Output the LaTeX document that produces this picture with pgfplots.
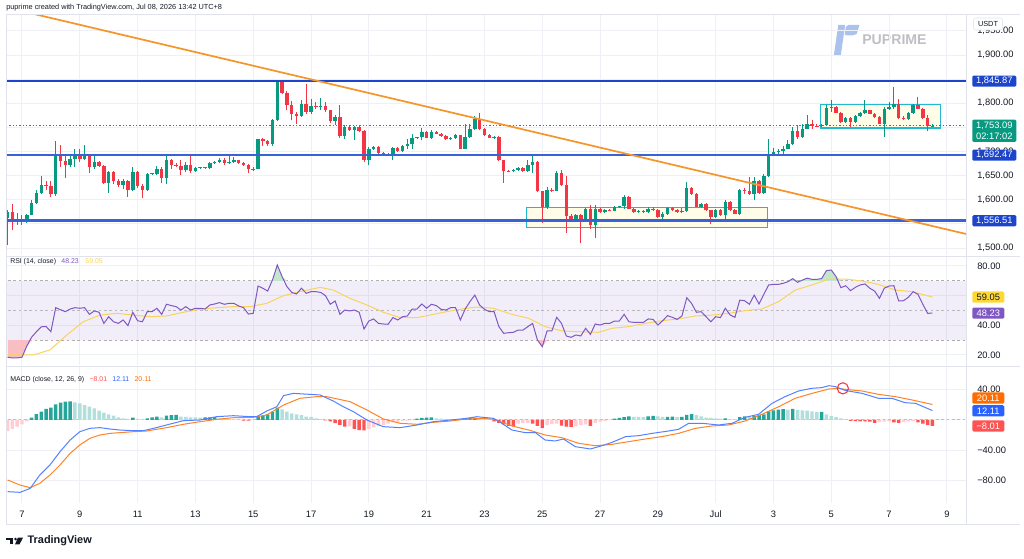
\documentclass[border=0pt]{standalone}
\usepackage{fontspec}
\setmainfont{Liberation Sans}
\usepackage{pgfplots}
\usepackage{pgfplotstable}
\pgfplotsset{compat=1.18}

\definecolor{tvgreen}{HTML}{089981}
\definecolor{tvred}{HTML}{F23645}
\definecolor{lvlblue}{HTML}{1C45CC}
\definecolor{lvlblue2}{HTML}{3A62D8}
\definecolor{trend}{HTML}{F5962D}
\definecolor{boxcyan}{HTML}{22B8CF}
\definecolor{boxfill}{HTML}{FFFCE8}
\definecolor{gridc}{HTML}{EEF0F5}
\definecolor{framec}{HTML}{E0E3EB}
\definecolor{rsipurple}{HTML}{7E57C2}
\definecolor{rsiyellow}{HTML}{F9D35A}
\definecolor{rsiybox}{HTML}{FDD835}
\definecolor{macdblue}{HTML}{2962FF}
\definecolor{macdorange}{HTML}{FF6D00}
\definecolor{hdg}{HTML}{26A69A}
\definecolor{hlg}{HTML}{B2DFDB}
\definecolor{hr}{HTML}{FF5252}
\definecolor{hp}{HTML}{FFCDD2}
\definecolor{txt}{HTML}{131722}
\definecolor{wm}{HTML}{BEBFC4}
\definecolor{wmicon}{HTML}{AAC2EC}
\definecolor{rsired}{HTML}{F8BEC4}
\definecolor{rsigreen}{HTML}{C3E7CD}

\pgfplotstableread{
i O H L C
0 1562.3 1578.0 1505.7 1574.7
1 1574.7 1592.0 1536.7 1557.5
2 1557.5 1573.0 1547.0 1558.8
3 1558.8 1568.0 1548.5 1554.0
4 1554.0 1571.3 1552.6 1569.2
5 1569.2 1598.9 1567.8 1594.1
6 1594.1 1619.6 1592.0 1614.1
7 1614.1 1649.3 1612.7 1630.0
8 1630.0 1638.3 1619.6 1628.6
9 1628.6 1638.0 1605.8 1611.3
10 1611.3 1721.9 1608.0 1692.2
11 1692.2 1714.3 1668.0 1679.7
12 1679.7 1692.0 1645.2 1672.8
13 1672.8 1695.6 1668.0 1683.9
14 1683.9 1706.0 1668.0 1692.2
15 1692.2 1706.0 1678.3 1683.9
16 1683.9 1714.3 1681.8 1692.2
17 1692.2 1695.6 1655.6 1668.0
18 1668.0 1695.6 1664.5 1678.3
19 1678.3 1680.0 1668.0 1670.1
20 1670.1 1672.8 1633.5 1635.5
21 1635.5 1659.0 1614.1 1657.6
22 1657.6 1659.0 1633.5 1638.3
23 1638.3 1643.8 1626.5 1630.0
24 1630.0 1643.8 1621.7 1639.0
25 1639.0 1640.4 1605.8 1619.6
26 1619.6 1668.0 1617.6 1657.6
27 1657.6 1659.0 1624.5 1628.6
28 1628.6 1633.5 1603.7 1621.0
29 1621.0 1655.0 1617.6 1653.5
30 1653.5 1656.0 1651.0 1654.2
31 1654.2 1670.1 1650.7 1664.5
32 1664.5 1668.0 1635.5 1645.2
33 1645.2 1692.2 1633.5 1681.8
34 1681.8 1685.0 1664.5 1672.8
35 1672.8 1676.0 1668.0 1670.1
36 1670.1 1681.8 1650.7 1661.1
37 1661.1 1678.3 1657.6 1672.8
38 1672.8 1692.2 1654.5 1659.0
39 1659.0 1668.0 1657.6 1665.9
40 1665.9 1668.5 1664.0 1666.8
41 1666.8 1668.5 1663.0 1665.5
42 1665.5 1678.3 1663.2 1676.3
43 1676.3 1680.0 1675.0 1678.3
44 1678.3 1686.6 1677.0 1681.8
45 1681.8 1686.6 1672.8 1677.0
46 1677.0 1695.6 1675.0 1678.3
47 1678.3 1688.7 1677.0 1681.8
48 1681.8 1683.0 1675.0 1676.3
49 1676.3 1678.0 1670.0 1671.4
50 1671.4 1674.0 1654.5 1663.2
51 1663.2 1668.0 1659.0 1664.5
52 1664.5 1726.7 1663.0 1725.3
53 1725.3 1728.1 1711.5 1721.2
54 1721.2 1723.0 1712.0 1716.3
55 1716.3 1768.2 1711.5 1764.7
56 1764.7 1847.5 1763.0 1845.0
57 1845.0 1846.5 1819.2 1821.3
58 1821.3 1824.7 1785.4 1795.8
59 1795.8 1804.1 1764.7 1778.5
60 1778.5 1782.0 1757.8 1773.7
61 1773.7 1806.2 1771.6 1799.2
62 1799.2 1840.7 1778.5 1782.0
63 1782.0 1809.6 1778.5 1794.4
64 1794.4 1802.7 1788.9 1792.3
65 1792.3 1811.0 1785.4 1793.5
66 1793.5 1802.7 1782.0 1785.4
67 1785.4 1786.5 1759.9 1762.6
68 1762.6 1775.0 1755.0 1772.0
69 1772.0 1795.8 1728.1 1732.2
70 1732.2 1754.3 1726.7 1750.9
71 1750.9 1753.0 1742.0 1744.0
72 1744.0 1752.0 1723.3 1750.0
73 1750.0 1752.0 1740.0 1741.9
74 1741.9 1744.0 1678.0 1681.8
75 1681.8 1709.4 1671.4 1706.0
76 1706.0 1712.0 1704.0 1709.4
77 1709.4 1712.0 1695.0 1697.7
78 1697.7 1700.0 1693.0 1694.2
79 1694.2 1697.0 1690.0 1692.2
80 1692.2 1709.4 1681.8 1707.4
81 1707.4 1710.0 1699.0 1700.5
82 1700.5 1713.0 1698.0 1711.5
83 1711.5 1725.3 1706.0 1716.3
84 1716.3 1737.1 1706.0 1728.1
85 1728.1 1731.0 1725.0 1729.5
86 1729.5 1748.8 1723.3 1740.5
87 1740.5 1742.0 1727.0 1728.1
88 1728.1 1744.0 1726.7 1740.5
89 1740.5 1742.0 1736.0 1737.1
90 1737.1 1739.0 1731.0 1732.2
91 1732.2 1734.0 1724.0 1725.3
92 1725.3 1730.0 1724.0 1728.0
93 1728.0 1737.1 1726.7 1733.6
94 1733.6 1735.0 1705.0 1706.0
95 1706.0 1757.8 1705.0 1730.2
96 1730.2 1757.8 1728.1 1747.4
97 1747.4 1773.7 1744.0 1766.8
98 1766.8 1780.6 1744.0 1746.1
99 1746.1 1748.0 1733.0 1735.0
100 1735.0 1737.0 1727.0 1728.1
101 1728.1 1732.0 1726.0 1730.0
102 1730.0 1732.0 1680.0 1681.8
103 1681.8 1683.0 1635.5 1659.7
104 1659.7 1662.0 1657.0 1659.0
105 1659.0 1664.0 1657.0 1662.5
106 1662.5 1667.0 1660.0 1665.9
107 1665.9 1668.0 1658.0 1659.7
108 1659.7 1681.8 1657.6 1672.8
109 1672.8 1690.8 1656.2 1678.3
110 1678.3 1680.0 1616.0 1617.6
111 1617.6 1618.5 1552.0 1585.1
112 1585.1 1626.5 1581.6 1621.0
113 1621.0 1624.0 1616.0 1619.0
114 1619.0 1660.0 1617.6 1656.0
115 1656.0 1661.0 1628.0 1630.6
116 1630.6 1649.3 1531.0 1566.3
117 1566.3 1571.0 1555.0 1557.5
118 1557.5 1571.0 1555.0 1567.8
119 1567.8 1571.0 1510.6 1557.5
120 1557.5 1582.0 1555.0 1580.3
121 1580.3 1588.5 1540.2 1547.1
122 1547.1 1588.5 1521.5 1580.3
123 1580.3 1582.0 1573.0 1574.7
124 1574.7 1580.0 1573.0 1578.2
125 1578.2 1581.0 1576.0 1577.5
126 1577.5 1587.0 1576.0 1585.1
127 1585.1 1588.0 1582.0 1586.5
128 1586.5 1610.7 1581.6 1605.8
129 1605.8 1608.0 1580.0 1581.6
130 1581.6 1583.0 1572.0 1574.7
131 1574.7 1578.0 1573.0 1576.1
132 1576.1 1578.0 1572.0 1574.7
133 1574.7 1584.0 1573.0 1581.6
134 1581.6 1584.0 1576.0 1578.2
135 1578.2 1581.0 1562.0 1564.4
136 1564.4 1575.0 1560.0 1571.3
137 1571.3 1586.0 1568.0 1583.7
138 1583.7 1586.0 1576.0 1578.2
139 1578.2 1580.0 1573.0 1574.7
140 1574.7 1582.0 1572.0 1576.0
141 1576.0 1636.9 1574.0 1624.5
142 1624.5 1626.5 1609.3 1612.7
143 1612.7 1614.0 1584.0 1585.1
144 1585.1 1594.0 1583.0 1592.0
145 1592.0 1594.0 1577.0 1578.2
146 1578.2 1579.0 1550.6 1564.4
147 1564.4 1580.0 1562.0 1578.2
148 1578.2 1580.0 1567.0 1569.2
149 1569.2 1598.9 1554.0 1595.5
150 1595.5 1597.0 1576.0 1578.2
151 1578.2 1580.0 1570.0 1571.3
152 1571.3 1623.1 1567.8 1619.6
153 1619.6 1624.5 1612.7 1617.6
154 1617.6 1647.3 1609.3 1612.7
155 1612.7 1647.3 1598.9 1638.3
156 1638.3 1641.0 1612.0 1614.1
157 1614.1 1654.2 1612.7 1649.3
158 1649.3 1725.3 1647.3 1695.6
159 1695.6 1707.4 1692.2 1699.1
160 1699.1 1705.0 1692.2 1700.5
161 1700.5 1711.5 1695.6 1706.0
162 1706.0 1723.3 1704.6 1716.3
163 1716.3 1750.9 1714.3 1741.9
164 1741.9 1754.3 1726.7 1730.2
165 1730.2 1757.8 1728.1 1746.1
166 1746.1 1775.1 1746.1 1757.8
167 1757.8 1764.7 1747.4 1753.0
168 1753.0 1757.0 1750.0 1752.3
169 1752.3 1756.0 1750.0 1754.3
170 1754.3 1795.8 1754.0 1790.3
171 1790.3 1806.2 1782.0 1792.3
172 1792.3 1794.0 1780.0 1780.6
173 1780.6 1782.0 1759.0 1761.2
174 1761.2 1771.0 1759.0 1769.5
175 1769.5 1771.6 1750.9 1761.2
176 1761.2 1775.0 1759.0 1773.7
177 1773.7 1782.0 1771.0 1780.6
178 1780.6 1806.2 1778.5 1785.4
179 1785.4 1787.0 1777.0 1778.5
180 1778.5 1780.0 1770.0 1771.6
181 1771.6 1773.0 1756.0 1757.8
182 1757.8 1792.3 1730.2 1788.9
183 1788.9 1802.7 1787.0 1792.3
184 1792.3 1833.8 1788.9 1799.2
185 1799.2 1809.6 1768.2 1769.5
186 1769.5 1773.0 1766.0 1768.2
187 1768.2 1781.0 1766.0 1780.6
188 1780.6 1799.2 1778.5 1795.8
189 1795.8 1813.0 1788.0 1788.9
190 1788.9 1790.0 1768.0 1769.5
191 1769.5 1775.1 1741.9 1752.3
192 1752.3 1757.8 1750.9 1753.09
}\candles

\pgfplotstableread{
i h t
0 -15 4
1 -12 4
2 -9 4
3 -6 4
4 -2 4
5 3 1
6 7.3 1
7 10.7 1
8 14.2 1
9 15.9 1
10 20.3 1
11 22.5 1
12 23.8 1
13 24.2 1
14 22.9 2
15 21.6 2
16 19.4 2
17 17.2 2
18 15 2
19 12 2
20 9.4 2
21 7.2 2
22 5.4 2
23 3.2 2
24 1.9 2
25 1.3 2
26 3 1
27 1.3 2
28 0.9 2
29 1.9 1
30 3.2 1
31 4.1 1
32 3.2 2
33 5.4 1
34 6.3 1
35 6.5 1
36 4.1 2
37 4 2
38 3.2 2
39 3.1 2
40 3 2
41 3.2 1
42 3.3 1
43 3.6 1
44 1.9 2
45 1.8 2
46 1.3 2
47 0.9 2
48 0.6 2
49 -1 3
50 -1.2 3
51 -0.5 4
52 4.1 1
53 5.4 1
54 7.2 1
55 10.7 1
56 15.9 1
57 13.7 2
58 10.7 2
59 8.5 2
60 7.2 2
61 6.3 2
62 4.1 2
63 4 2
64 1.9 2
65 0.9 2
66 -0.9 3
67 -2.2 3
68 -4.4 3
69 -6.6 3
70 -9 3
71 -8.5 4
72 -12 3
73 -13.4 3
74 -14 3
75 -12 4
76 -10 4
77 -8 4
78 -6.5 4
79 -5 4
80 -3.5 4
81 -2.5 4
82 -1.5 4
83 -1 4
84 -0.5 4
85 1.5 1
86 2.5 1
87 3 1
88 3.2 1
89 2 2
90 1.5 2
91 1.2 2
92 1 2
93 0.8 2
94 0.5 2
95 1.5 1
96 2.5 1
97 3 1
98 2 2
99 1.5 2
100 1 2
101 -2 3
102 -4 3
103 -6 3
104 -8 3
105 -8.5 3
106 -5 4
107 -4.5 4
108 -4 4
109 -5 3
110 -8 3
111 -11 3
112 -7 4
113 -5.5 4
114 -5 4
115 -7.5 3
116 -9 3
117 -9.2 3
118 -8.5 4
119 -7 4
120 -6 4
121 -8 3
122 -4 4
123 -2.5 4
124 -1.5 4
125 -0.5 4
126 1.5 1
127 2.5 1
128 3.5 1
129 4.5 1
130 4 2
131 3.8 2
132 3.5 2
133 4.5 1
134 5 1
135 4.5 2
136 3.8 2
137 4 1
138 4.2 1
139 3.5 2
140 4 1
141 6.5 1
142 7.5 1
143 6 2
144 4.5 2
145 3 2
146 2.5 2
147 2 2
148 1.5 2
149 2 1
150 1 2
151 0.8 2
152 3.5 1
153 4.5 1
154 4.2 2
155 5 1
156 6 1
157 7 1
158 11 1
159 12.5 1
160 13.5 1
161 14 1
162 13.5 2
163 14.2 1
164 13 2
165 12.5 2
166 12 2
167 11 2
168 10 2
169 10.5 1
170 7 2
171 5 2
172 3.5 2
173 2 2
174 0.8 2
175 -1.5 3
176 -1.8 3
177 -2 3
178 -2.2 3
179 -2.5 3
180 -4 3
181 -3 4
182 -2.5 4
183 -2 4
184 -3.5 3
185 -4 3
186 -3 4
187 -2.5 4
188 -2 4
189 -3.5 3
190 -5 3
191 -7 3
192 -8.01 3
}\hist

\pgfplotstableread{
i r
0 18.5
1 18
2 18
3 18.5
4 26
5 32
6 35.7
7 39
8 39.2
9 35.7
10 51.9
11 50.5
12 49.2
13 51
14 51.9
15 51.5
16 51.9
17 47.4
18 49.7
19 48.8
20 41.3
21 45.8
22 42.4
23 41.3
24 43.6
25 39.8
26 48.8
27 43.1
28 42.4
29 49.2
30 49.2
31 51.5
32 47.4
33 54.2
34 53.3
35 52.6
36 50.3
37 52.6
38 50.3
39 51.5
40 51.5
41 51
42 53.7
43 54.4
44 55.3
45 54.2
46 54.8
47 54.8
48 53
49 51.9
50 47.6
51 48.1
52 66.5
53 65
54 63.1
55 70.6
56 80.7
57 72.8
58 66.1
59 62.2
60 61.1
61 65
62 61.6
63 62.7
64 62.7
65 62.2
66 60
67 54.2
68 56.4
69 47.4
70 50.3
71 49.7
72 50.3
73 48.8
74 37.5
75 42.9
76 44.3
77 41.3
78 40.9
79 40.7
80 45.2
81 43.6
82 45.8
83 46.3
84 51
85 51
86 54.4
87 51.5
88 54.2
89 53.3
90 50.8
91 50.3
92 51.9
93 51.9
94 43.6
95 51
96 56
97 60.4
98 53.7
99 50.8
100 49.2
101 49.2
102 39.1
103 34.6
104 35
105 35.3
106 36.8
107 36.8
108 39.1
109 41.3
110 30.1
111 25.6
112 36.2
113 36.2
114 45.4
115 41.3
116 32.8
117 31.9
118 33.5
119 32.8
120 38
121 33.9
122 40.9
123 40.2
124 41.3
125 41.3
126 42.9
127 42.9
128 47.4
129 42.4
130 42
131 42
132 42
133 44.3
134 44
135 40.2
136 43.1
137 46.5
138 45.4
139 44
140 46.3
141 58.6
142 54.8
143 48.8
144 49.2
145 45.8
146 42.4
147 45.8
148 45.2
149 51.5
150 47
151 45.4
152 57
153 56.6
154 54.2
155 60.4
156 54.4
157 60.9
158 67.2
159 67.6
160 67.6
161 68.3
162 69.4
163 71.5
164 69
165 70.5
166 71.8
167 71
168 71
169 71.5
170 76.9
171 77.3
172 72.8
173 65.4
174 66.7
175 63.4
176 65.6
177 67.2
178 67.9
179 65
180 63.1
181 58.2
182 65
183 66.5
184 66.7
185 56.4
186 56.6
187 58.9
188 62.7
189 60.9
190 54.2
191 48.1
192 48.23
}\rsi

\pgfplotstableread{
i m
0 20
5.4 20
8.8 23.4
12.3 33.5
15.7 42.4
19.2 46.9
22.7 48.1
26.1 46.9
29.6 45.8
33 46.3
36.5 48.8
39.9 50.8
43.4 51.9
46.9 52.6
50.3 52.6
53.8 54.8
57.3 60
60.7 62.7
64.9 65.6
67.6 63.8
71.1 58.2
74.6 53.7
78 48.8
81.5 45.2
85 45.2
88.4 47.4
91.9 49.7
95.3 51.5
97.4 52.3
100.9 51.5
104.7 47.4
108.2 44.7
111.6 39.1
115.1 36.2
118.6 35.7
122.7 35.3
125.5 38
128.9 39.1
132.4 41.3
135.8 43.1
139.3 44.3
142.8 46.3
146.2 46.9
149.7 48.1
153.1 49.9
156.6 51
160.1 56
163.5 63.8
167 67.2
170.5 71.2
173.9 71.2
177.4 69.9
180.8 67.6
184.3 63.8
187.8 62.7
192 59.05
}\rsima

\pgfplotstableread{
i v
0 -94.3
2.6 -95.2
4.7 -90
6.7 -72.5
8.8 -59.3
10.9 -41.8
13 -26.5
15 -15.6
17.1 -11.2
19.2 -10.3
21.3 -12.1
23.3 -13.4
26.1 -14.3
28.2 -14.3
30.3 -11.2
33 -6.8
36.5 -1.1
39.9 -0.3
43.4 4.1
46.9 5.4
50.3 4.1
51.7 4.1
53.8 11.5
55.9 17.2
57.3 31.7
59.3 34.7
62.8 33.4
64.9 32.6
67.6 24.7
69.7 17.2
71.8 10.7
74.6 -0.3
78 -9
81.5 -10.3
85 -6.8
88.4 -2.5
91.9 -0.3
95.3 1.9
97.4 4.1
100.9 1.9
102.3 -3.3
104.7 -13.4
107.5 -16.9
109.6 -16.9
111.6 -26.5
113.7 -27.8
115.4 -25.2
117.9 -35.3
121 -38.3
123.4 -34
125.5 -29.6
128.3 -22.1
131 -20.8
133.8 -17.8
137.2 -14.7
139.3 -12.5
141.4 -4.6
144.2 -4.6
147.6 -6.8
150.4 -4.6
153.1 3.2
155.9 7.2
158.7 21.6
161.4 30.4
164.2 37.8
166.9 41.3
169 42.2
170.5 44.8
171.9 43.5
173.9 38.5
177.4 34.7
180.8 28.2
183.6 28.2
186.3 22.5
188.5 21.6
192 12.11
}\macd

\pgfplotstableread{
i s
0 -79
2.6 -85.6
4.7 -89.1
6.7 -83.4
8.8 -72.5
10.9 -59.3
13 -44
15 -33.1
17.1 -24.3
19.2 -19.9
21.3 -17.8
26.1 -15.6
28.9 -14.7
33 -10.3
36.5 -5.9
39.9 -2.5
43.4 0.6
46.9 2.8
51 3.2
53.8 6.3
57.3 19.4
60.7 28.2
64.2 30.4
66.2 30.4
71.1 23.8
74.6 12.9
78 1.1
81.5 -4.6
85 -5.9
88.4 -3.3
91.9 -1.6
95.3 1.1
98.8 1.9
100.9 0.6
104.7 -8
108.2 -13.4
111.6 -19.9
115.1 -23.5
118.6 -30.9
122 -34
125.5 -32.2
128.9 -28.7
132.4 -25.2
135.8 -22.1
139.3 -17.8
142.8 -11.2
146.2 -8.1
149.7 -6.8
153.1 -1.6
156.6 7.2
160.1 17.2
163.5 28.2
167 34.7
170.5 40.4
172.5 41.3
173.9 40
177.4 37.8
180.8 33.4
184.3 30.4
187.8 26
192 20.11
}\signal

\pgfplotsset{
  tvpane/.style={
    scale only axis, width=720pt,
    xmin=-0.32, xmax=198.97,
    axis line style={draw=none},
    major tick length=0pt,
    xtick={3,15,...,195},
    xmajorgrids, ymajorgrids,
    major grid style={draw=gridc, line width=0.75pt},
    yticklabel pos=right,
    yticklabel style={anchor=west, inner sep=0pt, xshift=8.25pt, font=\fontsize{7}{8}\selectfont, text=txt},
    xticklabel style={font=\fontsize{7}{8}\selectfont, text=txt},
    clip mode=individual,
    scaled y ticks=false,
  },
}
\tikzset{
  pbox/.style={anchor=west, xshift=4.5pt, inner xsep=0pt, inner ysep=0pt, minimum width=33pt, minimum height=8.4pt, text=white, font=\fontsize{7}{8}\selectfont, rounded corners=1pt},
  sbox/.style={anchor=west, xshift=4.5pt, inner xsep=0pt, inner ysep=0pt, minimum width=24pt, minimum height=8.4pt, text=white, font=\fontsize{7}{8}\selectfont, rounded corners=1pt},
}

\begin{document}
\begin{tikzpicture}
\useasboundingbox (0,0) rectangle (768pt,418.5pt);

% watermark
\fill[wmicon] (628.7pt,399.75pt) -- (633.9pt,399.75pt) -- (630.6pt,377.25pt) -- (625.4pt,377.25pt) -- cycle;
\fill[wmicon] (634.6pt,399.75pt) -- (644.6pt,399.75pt) -- (642.6pt,393.2pt) [rounded corners=1.5pt] -- (640.8pt,392pt) -- (633.4pt,392pt) -- cycle;
\node[anchor=west, inner sep=0pt, text=wm, font=\fontsize{10.6}{11}\selectfont\bfseries] at (646.5pt,388.5pt) {PUPRIME};

% ---------- price pane ----------
\begin{axis}[tvpane, at={(4.5pt,227.25pt)}, anchor=south west, height=180pt,
  ymin=1485.5, ymax=1982.9, ytick={1500,1550,1600,1650,1700,1750,1800,1850,1900,1950},
  yticklabels={{1,500.00},{},{1,600.00},{1,650.00},{1,700.00},{},{1,800.00},{},{1,900.00},{1,950.00}},
  xticklabels={}]
\addplot[forget plot, draw=boxcyan, line width=1pt, fill=boxfill] coordinates {(107.8,1542) (157.7,1542) (157.7,1584.3) (107.8,1584.3)} -- cycle;
\addplot[forget plot, draw=boxcyan, line width=1pt, fill=boxfill] coordinates {(168.7,1748.7) (193.7,1748.7) (193.7,1797.8) (168.7,1797.8)} -- cycle;
% wicks
\addplot[forget plot, draw=tvgreen, line width=0.75pt, restrict x to domain=-5:250,
  quiver={u=0, v={\thisrow{H}-\thisrow{L}}}]
  table[x expr={\thisrow{C}<\thisrow{O} ? -100 : \thisrow{i}}, y=L] {\candles};
\addplot[forget plot, draw=tvred, line width=0.75pt, restrict x to domain=-5:250,
  quiver={u=0, v={\thisrow{H}-\thisrow{L}}}]
  table[x expr={\thisrow{C}<\thisrow{O} ? \thisrow{i} : -100}, y=L] {\candles};
% bodies
\addplot[forget plot, draw=tvgreen, line width=2.6pt, restrict x to domain=-5:250,
  quiver={u=0, v={max(\thisrow{C}-\thisrow{O},1.5)}}]
  table[x expr={\thisrow{C}<\thisrow{O} ? -100 : \thisrow{i}}, y=O] {\candles};
\addplot[forget plot, draw=tvred, line width=2.6pt, restrict x to domain=-5:250,
  quiver={u=0, v={max(\thisrow{O}-\thisrow{C},1.5)}}]
  table[x expr={\thisrow{C}<\thisrow{O} ? \thisrow{i} : -100}, y=C] {\candles};
% levels
\addplot[forget plot, tvgreen, line width=0.6pt, dash pattern=on 1pt off 1.5pt] coordinates {(-1,1753.09) (200,1753.09)};
\addplot[forget plot, lvlblue, line width=1.3pt] coordinates {(-1,1845.87) (200,1845.87)};
\addplot[forget plot, lvlblue2, line width=1.8pt] coordinates {(-1,1692.47) (200,1692.47)};
\addplot[forget plot, lvlblue2, line width=2pt] coordinates {(-1,1556.51) (200,1556.51)};
\addplot[forget plot, trend, line width=1.3pt] coordinates {(-1,2000.3) (200,1526.7)};
\node[pbox, fill=lvlblue] at (axis cs:198.97,1845.87) {1,845.87};
\node[pbox, fill=lvlblue] at (axis cs:198.97,1692.47) {1,692.47};
\node[pbox, fill=lvlblue] at (axis cs:198.97,1556.51) {1,556.51};
\node[anchor=north west, xshift=4.5pt, yshift=4.9pt, fill=tvgreen, text=white, align=center,
  inner xsep=0pt, inner ysep=1.6pt, minimum width=33pt, rounded corners=1pt, font=\fontsize{7}{8.6}\selectfont]
  at (axis cs:198.97,1753.09) {1,753.09\\02:17:02};
\end{axis}

% ---------- RSI pane ----------
\begin{axis}[tvpane, at={(4.5pt,144.75pt)}, anchor=south west, height=81pt,
  ymin=13.24, ymax=86.07, ytick={20,40,60,80},
  yticklabels={20.00,40.00,{},80.00}, xticklabels={}]
\addplot[forget plot, draw=none, fill=rsipurple, fill opacity=0.1] coordinates {(-1,30) (200,30) (200,70) (-1,70)} -- cycle;
\addplot[forget plot, gray!65, line width=0.6pt, dash pattern=on 2pt off 2pt] coordinates {(-1,70) (200,70)};
\addplot[forget plot, gray!55, line width=0.6pt, dash pattern=on 2pt off 2pt] coordinates {(-1,50) (200,50)};
\addplot[forget plot, gray!65, line width=0.6pt, dash pattern=on 2pt off 2pt] coordinates {(-1,30) (200,30)};
\addplot[forget plot, fill=rsired, draw=none] table[x=i, y expr={min(\thisrow{r},30)}] {\rsi} -- (axis cs:0,30) -- cycle;
\addplot[forget plot, fill=rsigreen, draw=none] table[x=i, y expr={max(\thisrow{r},70)}] {\rsi} -- cycle;
\addplot[forget plot, rsiyellow, line width=0.75pt] table[x=i, y=m] {\rsima};
\addplot[forget plot, rsipurple, line width=0.75pt] table[x=i, y=r] {\rsi};
\node[sbox, fill=rsiybox, text=txt] at (axis cs:198.97,59.05) {59.05};
\node[sbox, fill=rsipurple] at (axis cs:198.97,48.23) {48.23};
\end{axis}

% ---------- MACD pane ----------
\begin{axis}[tvpane, at={(4.5pt,41.25pt)}, anchor=south west, height=102pt,
  ymin=-109.2, ymax=69.3, ytick={-80,-40,0,40},
  yticklabels={−80.00,−40.00,{},40.00},
  xticklabels={7,9,11,13,15,17,19,21,23,25,27,29,Jul,3,5,7,9},
  xticklabel style={anchor=center, yshift=-8.25pt}]
\addplot[forget plot, gray!50, line width=0.6pt, dash pattern=on 2pt off 2pt] coordinates {(-1,0) (200,0)};
\addplot[forget plot, ybar, bar width=2.6pt, bar shift=0pt, fill=hdg, draw=none, restrict x to domain=-5:250]
  table[x expr={\thisrow{t}==1 ? \thisrow{i} : -100}, y=h] {\hist};
\addplot[forget plot, ybar, bar width=2.6pt, bar shift=0pt, fill=hlg, draw=none, restrict x to domain=-5:250]
  table[x expr={\thisrow{t}==2 ? \thisrow{i} : -100}, y=h] {\hist};
\addplot[forget plot, ybar, bar width=2.6pt, bar shift=0pt, fill=hr, draw=none, restrict x to domain=-5:250]
  table[x expr={\thisrow{t}==3 ? \thisrow{i} : -100}, y=h] {\hist};
\addplot[forget plot, ybar, bar width=2.6pt, bar shift=0pt, fill=hp, draw=none, restrict x to domain=-5:250]
  table[x expr={\thisrow{t}==4 ? \thisrow{i} : -100}, y=h] {\hist};
\addplot[forget plot, macdorange!85, line width=0.75pt] table[x=i, y=s] {\signal};
\addplot[forget plot, macdblue!80, line width=0.75pt] table[x=i, y=v] {\macd};
\addplot[forget plot, only marks, mark=o, mark size=4.2pt, mark options={draw=tvred, line width=0.8pt}] coordinates {(173.4,41.3)};
\node[sbox, fill=macdorange] at (axis cs:198.97,28.6) {20.11};
\node[sbox, fill=macdblue] at (axis cs:198.97,11.8) {12.11};
\node[sbox, fill=hr] at (axis cs:198.97,-8.1) {−8.01};
\end{axis}

% frame
\draw[framec, line width=0.75pt] (4.5pt,407.25pt) -- (765pt,407.25pt);
\draw[framec, line width=0.75pt] (4.5pt,25.5pt) -- (765pt,25.5pt);
\draw[framec, line width=0.75pt] (4.5pt,25.5pt) -- (4.5pt,407.25pt);
\draw[framec, line width=0.75pt] (4.5pt,226.5pt) -- (765pt,226.5pt);
\draw[framec, line width=0.75pt] (4.5pt,144pt) -- (765pt,144pt);
\draw[framec, line width=0.6pt] (724.5pt,25.5pt) -- (724.5pt,407.25pt);

% USDT box
\node[draw=framec, fill=white, rounded corners=2pt, inner sep=0pt, minimum width=22pt, minimum height=9pt, font=\fontsize{5.5}{6}\selectfont, text=txt] at (741pt,400.5pt) {USDT};

% header
\node[anchor=west, inner sep=0pt, font=\fontsize{5.5}{6}\selectfont, text=txt] at (4.5pt,412.5pt) {puprime created with TradingView.com, Jul 08, 2026 13:42 UTC+8};

% legends
\node[anchor=west, inner sep=0pt, font=\fontsize{5.2}{6}\selectfont, text=txt] at (7.5pt,222pt)
  {RSI (14, close)\hspace{4pt}\textcolor{rsipurple}{48.23}\hspace{5pt}\textcolor{rsiyellow}{59.05}};
\node[anchor=west, inner sep=0pt, font=\fontsize{5.2}{6}\selectfont, text=txt] at (7.5pt,133.5pt)
  {MACD (close, 12, 26, 9)\hspace{4pt}\textcolor{hr}{−8.01}\hspace{4pt}\textcolor{macdblue}{12.11}\hspace{4pt}\textcolor{macdorange}{20.11}};

% TradingView logo
\fill[txt] (4.5pt,15.3pt) rectangle (10.1pt,13.4pt);
\fill[txt] (7.7pt,13.4pt) rectangle (10.1pt,10.2pt);
\fill[txt] (11.7pt,14.2pt) circle (1.1pt);
\fill[txt] (13.4pt,15.3pt) -- (17.3pt,15.3pt) -- (14.6pt,10.2pt) -- (11.3pt,10.2pt) -- cycle;
\node[anchor=west, inner sep=0pt, font=\fontsize{8.2}{9}\selectfont\bfseries, text=txt] at (20.5pt,12.75pt) {TradingView};
\end{tikzpicture}
\end{document}
